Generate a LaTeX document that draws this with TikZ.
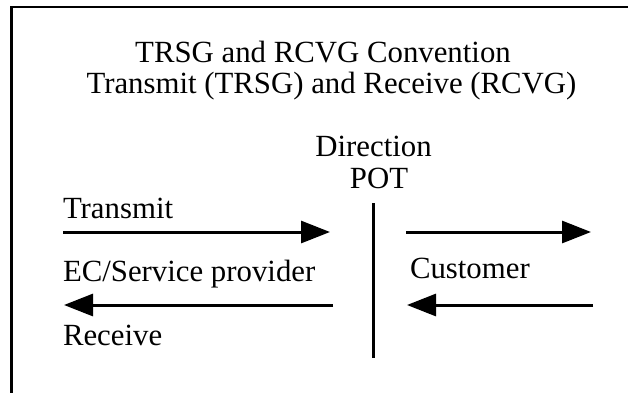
\documentclass[tikz,border=0pt]{standalone}
\usepackage{fontspec}
\setmainfont{Liberation Serif}
\usetikzlibrary{arrows.meta}
\tikzset{
  lbl/.style={inner sep=0pt, outer sep=0pt, font=\fontsize{30.8}{31}\selectfont},
  flow/.style={line width=3pt, -{Triangle[length=29pt,width=22pt]}},
  frame/.style={line width=2.6pt},
  potline/.style={line width=3pt}
}
\begin{document}
\begin{tikzpicture}[x=1pt,y=-1pt]
\useasboundingbox (0,0) rectangle (628,392);
% frame (top and left edges, cut by the picture's edge)
\draw[frame] (11.5,400) -- (11.5,7) -- (640,7);
% title
\node[lbl, anchor=base] (t1) at (323,62) {TRSG and RCVG Convention};
\node[lbl, anchor=base] (t2) at (331.5,93) {Transmit (TRSG) and Receive (RCVG)};
% POT
\node[lbl, anchor=base] (dir) at (373.5,156) {Direction};
\node[lbl, anchor=base] (pot) at (379,188) {POT};
\coordinate (ptop) at (373,203);
\coordinate (pbot) at (373,358);
\draw[potline] (ptop) -- (pbot);
% labels
\node[lbl, anchor=base west] (tx) at (63,218) {Transmit};
\node[lbl, anchor=base west] (ec) at (63,281) {EC/Service provider};
\node[lbl, anchor=base west] (cu) at (410,278) {Customer};
\node[lbl, anchor=base west] (rx) at (63,345) {Receive};
% arrow ends
\coordinate (a1s) at (63,232);
\coordinate (a1e) at (330,232);
\coordinate (a2s) at (406,232);
\coordinate (a2e) at (591,232);
\coordinate (a3s) at (333,305);
\coordinate (a3e) at (64,305);
\coordinate (a4s) at (593,305);
\coordinate (a4e) at (407,305);
\draw[flow] (a1s) -- (a1e);
\draw[flow] (a2s) -- (a2e);
\draw[flow] (a3s) -- (a3e);
\draw[flow] (a4s) -- (a4e);
\end{tikzpicture}
\end{document}
